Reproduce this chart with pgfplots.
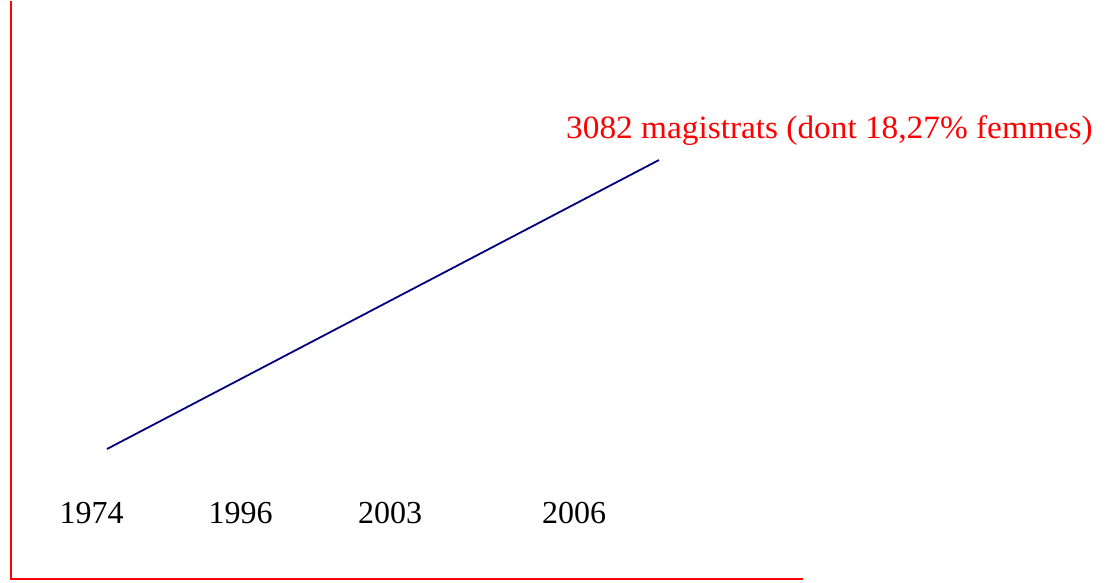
\documentclass[border=0pt]{standalone}
\usepackage{pgfplots}
\pgfplotsset{compat=1.18}
\usepackage{fontspec}
\setmainfont{Liberation Serif}
\definecolor{navyline}{RGB}{0,0,128}
\begin{document}
\begin{tikzpicture}
\begin{axis}[
  scale only axis, width=1105pt, height=581pt,
  xmin=0, xmax=1105, ymin=0, ymax=581,
  hide axis, clip=false,
]
% frame lines (red axes)
\addplot[red, line width=2pt, forget plot] coordinates {(11,581) (11,3.5) (803,3.5)};
% data line
\addplot[navyline, line width=1.8pt] coordinates {(107,133) (659,422)};
% year labels
\node[anchor=base, font=\fontsize{32}{36}\selectfont] at (axis cs:91.5,59) {1974};
\node[anchor=base, font=\fontsize{32}{36}\selectfont] at (axis cs:240.5,59) {1996};
\node[anchor=base, font=\fontsize{32}{36}\selectfont] at (axis cs:390,59) {2003};
\node[anchor=base, font=\fontsize{32}{36}\selectfont] at (axis cs:574,59) {2006};
% annotation
\node[anchor=base west, inner sep=0pt, text=red, font=\fontsize{32.5}{36}\selectfont, xscale=1.025] at (axis cs:566,443) {3082 magistrats (dont 18,27\% femmes)};
\path (axis cs:0,0) (axis cs:1105,581);
\end{axis}
\end{tikzpicture}
\end{document}
